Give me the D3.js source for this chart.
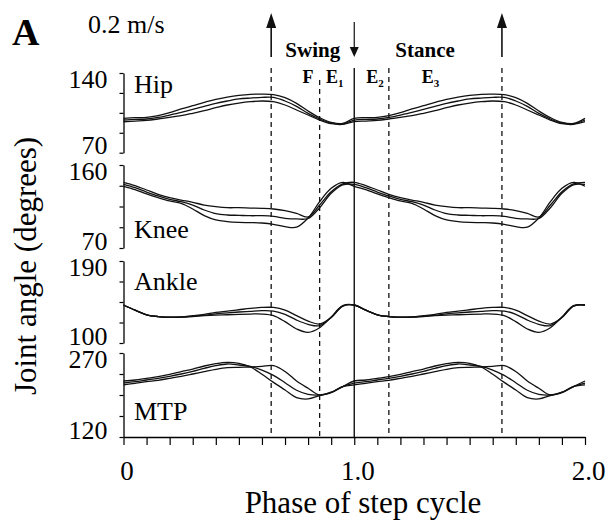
<!DOCTYPE html>
<html>
<head>
<meta charset="utf-8">
<script src="https://cdn.jsdelivr.net/npm/d3@7"></script>
<style>
  body { margin: 0; background: #fff; }
  svg { display: block; font-family: "Liberation Serif", "Times New Roman", serif; }
</style>
</head>
<body>
<svg id="chart" width="610" height="521"></svg>
<script>
// one step cycle (phase 0 - 0.95), plotted twice like the original figure
var phase = [0, 0.05, 0.1, 0.15, 0.2, 0.25, 0.3, 0.35, 0.4, 0.45,
             0.5, 0.55, 0.6, 0.65, 0.7, 0.75, 0.8, 0.85, 0.9, 0.95];

var hip1 = [100.2, 100.8, 101, 102.5, 105.1, 108.4, 111.3, 114.2, 116.9, 118.9,
            120.4, 121.3, 121.5, 121, 118.3, 113.3, 106.6, 100.8, 96.7, 95.8];
var hip2 = [98.7, 99.3, 99.6, 101, 103.1, 105.4, 108.1, 110.7, 113.3, 115.4,
            117.2, 118, 118.6, 118.6, 115.4, 110.7, 104.6, 99.6, 96.1, 95.2];
var hip3 = [97.2, 97.8, 98.4, 99.6, 101, 102.5, 104.6, 106.9, 109.5, 111.9,
            113.6, 114.8, 115.4, 114.8, 111.9, 107.5, 103.1, 98.7, 95.5, 94.9];

var knee1 = [141.2, 137.6, 132.9, 128.2, 124.6, 122, 119.5, 116.6, 114.8, 113.7,
             113.7, 113.3, 113, 112.3, 110.5, 107.6, 103.7, 116.6, 131, 139.5];
var knee2 = [139, 135.4, 130.7, 126.4, 122.8, 120.2, 116.6, 111.2, 107.2, 105.8,
             105.4, 105, 105, 104.3, 102.2, 101.5, 102, 113.7, 129.3, 138.5];
var knee3 = [136.9, 133.3, 128.6, 124.6, 121, 118.4, 112.3, 105.1, 100.4, 98.6,
             97.8, 97.5, 97.1, 95.7, 93.1, 92.6, 102.5, 120.2, 134.7, 141.2];

var ankle1 = [141.7, 136, 131, 129, 128.3, 128.6, 130, 131.5, 133.6, 135,
              136.5, 138, 139, 139, 136.2, 130, 124, 120.8, 128, 140.5];
var ankle2 = [141.7, 136, 131, 129, 128.3, 128.5, 129.5, 130.5, 132, 133,
              134, 134.8, 135.5, 135.1, 131.5, 125.2, 120.5, 119, 128, 140.5];
var ankle3 = [141.7, 136, 131, 129, 128.2, 128.3, 129, 130, 130.7, 131,
              131.5, 131.8, 131.8, 130, 123.4, 115.4, 111.7, 116.8, 128.5, 141];

var mtp1 = [220, 221.8, 224.8, 227.8, 231.9, 236.7, 241.4, 246.8, 251, 253.3,
            251.6, 245, 232, 217.6, 204, 190.3, 188, 194, 199, 210];
var mtp2 = [216.4, 218.8, 221.8, 224.8, 228.4, 232.5, 237.3, 242.6, 247.4, 250.4,
            248.6, 246, 239.6, 230, 217, 203.5, 196.2, 195, 199.5, 210];
var mtp3 = [212.9, 215.9, 218.8, 221.2, 224.8, 228.4, 232.5, 236.7, 240.8, 243.8,
            244.5, 245, 246, 247.4, 237, 220, 207, 195, 200, 210];

var joints = ["Hip", "Knee", "Ankle", "MTP"];
var angleMin = [70, 70, 100, 120];
var angleMax = [140, 160, 190, 270];
var jointSeries = [[hip1, hip2, hip3], [knee1, knee2, knee3],
                   [ankle1, ankle2, ankle3], [mtp1, mtp2, mtp3]];

// phase events: toe off (up arrows), F/E1, foot contact, E2/E3
var toeOff = [0.64, 1.64];
var footContact = 1.0;
var phaseBounds = [0.85, 1.15];
var phaseNames = ["F", "E", "E", "E"];
var phaseSubs = ["", "1", "2", "3"];
var phaseNamePos = [0.80, 0.915, 1.09, 1.33];

var xTicks = d3.range(21).map(function(i) { return i / 10; });

var svg = d3.select("#chart");
var x = d3.scaleLinear().domain([0, 2]).range([123.5, 585]);

// layout of the four stacked panels
var panelTop = [73, 165, 261, 353];
var panelBottom = [152.7, 248, 343, 437];
var labelY = [93, 238, 290, 420];
var axisBottomY = 437;

var line = d3.line()
  .x(function(d) { return x(d[0]); })
  .y(function(d) { return d[1]; })
  .curve(d3.curveCatmullRom.alpha(0.5));

joints.forEach(function(name, j) {
  var lo = angleMin[j], hi = angleMax[j];
  var y = d3.scaleLinear().domain([lo, hi]).range([panelBottom[j], panelTop[j]]);
  var ticks = d3.range(5).map(function(i) { return lo + i * (hi - lo) / 4; });

  var g = svg.append("g").attr("transform", "translate(" + x(0) + ",0)");
  g.call(d3.axisLeft(y).tickValues(ticks).tickSize(4).tickSizeOuter(0).tickPadding(12)
      .tickFormat(function(d) { return (d === lo || d === hi) ? d : ""; }));
  g.attr("font-family", null).attr("font-size", 26);
  g.select(".domain").attr("stroke-width", 1.3);
  g.selectAll(".tick line").attr("stroke-width", 1.2);
  g.selectAll(".tick text").attr("dy", function(d) { return d === hi ? "0.54em" : "0.04em"; });

  svg.append("text").attr("x", 134).attr("y", labelY[j])
    .attr("font-size", 26).text(name);

  jointSeries[j].forEach(function(vals) {
    var pts = [];
    [0, 1].forEach(function(c) {
      phase.forEach(function(p, i) { pts.push([p + c, y(vals[i])]); });
    });
    pts.push([2, y(vals[0])]);
    svg.append("path").attr("d", line(pts))
      .attr("fill", "none").attr("stroke", "#111").attr("stroke-width", 1.3);
  });
});

// x axis
var gx = svg.append("g").attr("transform", "translate(0," + axisBottomY + ")");
gx.call(d3.axisBottom(x).tickValues(xTicks).tickSize(8).tickSizeOuter(0)
    .tickFormat(function(d) {
      if (d === 0) return "0";
      if (d === 1) return "1.0";
      if (d === 2) return "2.0";
      return "";
    }));
gx.attr("font-family", null).attr("font-size", 27);
gx.select(".domain").attr("stroke-width", 1.3);
gx.selectAll(".tick line").attr("stroke-width", 1.2);
gx.selectAll(".tick text").attr("y", 43).attr("dy", 0).attr("dx", 3);

// vertical phase lines
toeOff.forEach(function(p) {
  svg.append("line").attr("x1", x(p)).attr("x2", x(p)).attr("y1", 68).attr("y2", axisBottomY)
    .attr("stroke", "#111").attr("stroke-width", 1.3).attr("stroke-dasharray", "5,4");
});
phaseBounds.forEach(function(p, i) {
  svg.append("line").attr("x1", x(p)).attr("x2", x(p)).attr("y1", i === 0 ? 80 : 68).attr("y2", axisBottomY)
    .attr("stroke", "#111").attr("stroke-width", 1.3).attr("stroke-dasharray", "5,4");
});
svg.append("line").attr("x1", x(footContact)).attr("x2", x(footContact))
  .attr("y1", 68).attr("y2", axisBottomY).attr("stroke", "#111").attr("stroke-width", 1.4);

// arrows
toeOff.forEach(function(p) {
  var cx = x(p);
  svg.append("line").attr("x1", cx).attr("x2", cx).attr("y1", 57).attr("y2", 24)
    .attr("stroke", "#111").attr("stroke-width", 1.6);
  svg.append("path").attr("d", "M" + cx + ",13L" + (cx - 5) + ",28L" + (cx + 5) + ",28Z").attr("fill", "#111");
});
var fx = x(footContact);
svg.append("line").attr("x1", fx).attr("x2", fx).attr("y1", 22).attr("y2", 48)
  .attr("stroke", "#111").attr("stroke-width", 1.2);
svg.append("path").attr("d", "M" + fx + ",57L" + (fx - 4.5) + ",47L" + (fx + 4.5) + ",47Z").attr("fill", "#111");

// swing / stance and subphase labels
svg.append("text").attr("x", x(0.82)).attr("y", 57).attr("text-anchor", "middle")
  .attr("font-size", 21).attr("font-weight", "bold").text("Swing");
svg.append("text").attr("x", x(1.307)).attr("y", 57).attr("text-anchor", "middle")
  .attr("font-size", 21).attr("font-weight", "bold").text("Stance");

phaseNames.forEach(function(n, i) {
  var t = svg.append("text").attr("x", x(phaseNamePos[i])).attr("y", 83)
    .attr("text-anchor", "middle").attr("font-size", 18).attr("font-weight", "bold");
  t.append("tspan").text(n);
  if (phaseSubs[i]) t.append("tspan").attr("font-size", 11).attr("dy", 4).text(phaseSubs[i]);
});

// titles
svg.append("text").attr("x", 12).attr("y", 45).attr("font-size", 38).attr("font-weight", "bold").text("A");
svg.append("text").attr("x", 88).attr("y", 33).attr("font-size", 26).text("0.2 m/s");
svg.append("text").attr("x", 363).attr("y", 513).attr("text-anchor", "middle")
  .attr("font-size", 31).text("Phase of step cycle");
svg.append("text").attr("transform", "translate(36,266) rotate(-90)").attr("text-anchor", "middle")
  .attr("font-size", 31).text("Joint angle (degrees)");
</script>
</body>
</html>
